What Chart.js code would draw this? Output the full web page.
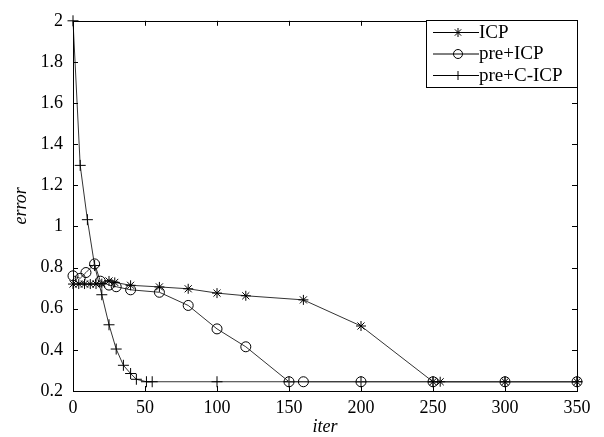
<!DOCTYPE html>
<html><head><meta charset="utf-8">
<script src="https://cdn.jsdelivr.net/npm/chart.js@4/dist/chart.umd.min.js"></script>
<style>html,body{margin:0;padding:0;background:#fff;}#wrap{width:604px;height:437px;}</style>
</head><body><div id="wrap"><canvas id="c" width="604" height="437"></canvas></div>
<script>
const seriesNames = ['ICP', 'pre+ICP', 'pre+C-ICP'];
const pointStyles = ['star', 'circle', 'cross'];

const icpIter = [0, 4, 8, 12, 16, 20, 25, 29, 40, 60, 80, 100, 120, 160, 200, 250, 255, 300, 350];
const icpErr  = [0.72, 0.72, 0.72, 0.72, 0.72, 0.722, 0.735, 0.728, 0.714, 0.706, 0.697, 0.676, 0.663, 0.643, 0.516, 0.245, 0.245, 0.245, 0.245];

const preIcpIter = [0, 5, 9, 15, 19, 25, 30, 40, 60, 80, 100, 120, 150, 160, 200, 250, 300, 350];
const preIcpErr  = [0.76, 0.748, 0.776, 0.818, 0.734, 0.715, 0.707, 0.692, 0.68, 0.616, 0.502, 0.415, 0.245, 0.245, 0.245, 0.245, 0.245, 0.245];

const preCIcpIter = [0, 5, 10, 15, 20, 25, 30, 35, 40, 44, 51, 55, 100, 150, 200, 250, 300, 350];
const preCIcpErr  = [2.0, 1.297, 1.033, 0.81, 0.668, 0.522, 0.404, 0.325, 0.285, 0.257, 0.245, 0.245, 0.245, 0.245, 0.245, 0.245, 0.245, 0.245];

const xTicks = [0, 50, 100, 150, 200, 250, 300, 350];
const yTicks = [0.2, 0.4, 0.6, 0.8, 1, 1.2, 1.4, 1.6, 1.8, 2];
const xTitle = 'iter';
const yTitle = 'error';

function pts(xs, ys) { return xs.map((x, i) => ({x: x, y: ys[i]})); }
const seriesData = [pts(icpIter, icpErr), pts(preIcpIter, preIcpErr), pts(preCIcpIter, preCIcpErr)];

const FONT = "'Liberation Serif', 'Times New Roman', serif";

const frameTicks = {
  id: 'frameTicks',
  afterDatasetsDraw(chart) {
    const {ctx, chartArea: a, scales: {x, y}} = chart;
    ctx.save();
    ctx.strokeStyle = '#000';
    ctx.lineWidth = 1;
    ctx.strokeRect(Math.round(a.left) + 0.5, Math.round(a.top) + 0.5, Math.round(a.right - a.left), Math.round(a.bottom - a.top));
    const L = 5;
    ctx.beginPath();
    xTicks.forEach(v => {
      const px = Math.round(x.getPixelForValue(v)) + 0.5;
      ctx.moveTo(px, a.bottom); ctx.lineTo(px, a.bottom - L);
      ctx.moveTo(px, a.top); ctx.lineTo(px, a.top + L);
    });
    yTicks.forEach(v => {
      const py = Math.round(y.getPixelForValue(v)) + 0.5;
      ctx.moveTo(a.left, py); ctx.lineTo(a.left + L, py);
      ctx.moveTo(a.right, py); ctx.lineTo(a.right - L, py);
    });
    ctx.stroke();
    ctx.restore();
  }
};

const boxLegend = {
  id: 'boxLegend',
  afterDraw(chart) {
    const {ctx, chartArea: a} = chart;
    const w = 151, h = 67;
    const x0 = Math.round(a.right - w), y0 = Math.round(a.top) - 1;
    ctx.save();
    ctx.fillStyle = '#fff';
    ctx.fillRect(x0, y0, w, h);
    ctx.strokeStyle = '#000';
    ctx.lineWidth = 1;
    ctx.strokeRect(x0 + 0.5, y0 + 0.5, w, h);
    ctx.font = "19px " + FONT;
    ctx.textBaseline = 'middle';
    ctx.textAlign = 'left';
    chart.data.datasets.forEach((ds, i) => {
      const cy = y0 + 12 + i * 21.5;
      ctx.strokeStyle = '#000';
      ctx.lineWidth = 1;
      ctx.beginPath();
      ctx.moveTo(x0 + 7, cy + 0.5); ctx.lineTo(x0 + 53, cy + 0.5);
      ctx.stroke();
      ctx.fillStyle = 'rgba(0,0,0,0)';
      Chart.helpers.drawPoint(ctx, {pointStyle: ds.pointStyle, radius: 4.5, rotation: 0, borderWidth: 1}, x0 + 32, cy + 0.5);
      ctx.fillStyle = '#000';
      ctx.fillText(ds.label, x0 + 53, cy + 1);
    });
    ctx.restore();
  }
};

new Chart(document.getElementById('c'), {
  type: 'line',
  data: {
    datasets: seriesNames.map((name, i) => ({
      label: name,
      data: seriesData[i],
      borderColor: '#333',
      borderWidth: 1,
      pointStyle: pointStyles[i],
      pointRadius: i === 2 ? 5.5 : 5,
      pointBorderColor: '#000',
      pointBorderWidth: 1,
      pointBackgroundColor: 'rgba(0,0,0,0)',
      fill: false,
      tension: 0,
      clip: false
    }))
  },
  options: {
    responsive: false,
    devicePixelRatio: 1,
    animation: false,
    layout: {padding: {top: 15, right: 27, left: 0, bottom: 0}},
    plugins: {legend: {display: false}, tooltip: {enabled: false}},
    scales: {
      x: {
        type: 'linear', min: 0, max: 350,
        afterBuildTicks(s) { s.ticks = xTicks.map(v => ({value: v})); },
        afterFit(s) { s.height = 46; },
        grid: {display: false, drawTicks: false},
        border: {display: false},
        ticks: {padding: 6, color: '#000', font: {family: FONT, size: 18}, maxRotation: 0, callback: v => String(v)},
        title: {display: true, text: xTitle, color: '#000', font: {family: FONT, size: 18, style: 'italic'}, padding: {top: 0, bottom: -1}}
      },
      y: {
        type: 'linear', min: 0.2, max: 2,
        afterBuildTicks(s) { s.ticks = yTicks.map(v => ({value: v})); },
        afterFit(s) { s.width = 73; },
        grid: {display: false, drawTicks: false},
        border: {display: false},
        ticks: {padding: 10, color: '#000', font: {family: FONT, size: 18}, callback: v => String(Math.round(v * 10) / 10)},
        title: {display: true, text: yTitle, color: '#000', font: {family: FONT, size: 18, style: 'italic'}, padding: {top: 10, bottom: 0}}
      }
    }
  },
  plugins: [frameTicks, boxLegend]
});
</script>
</body></html>
